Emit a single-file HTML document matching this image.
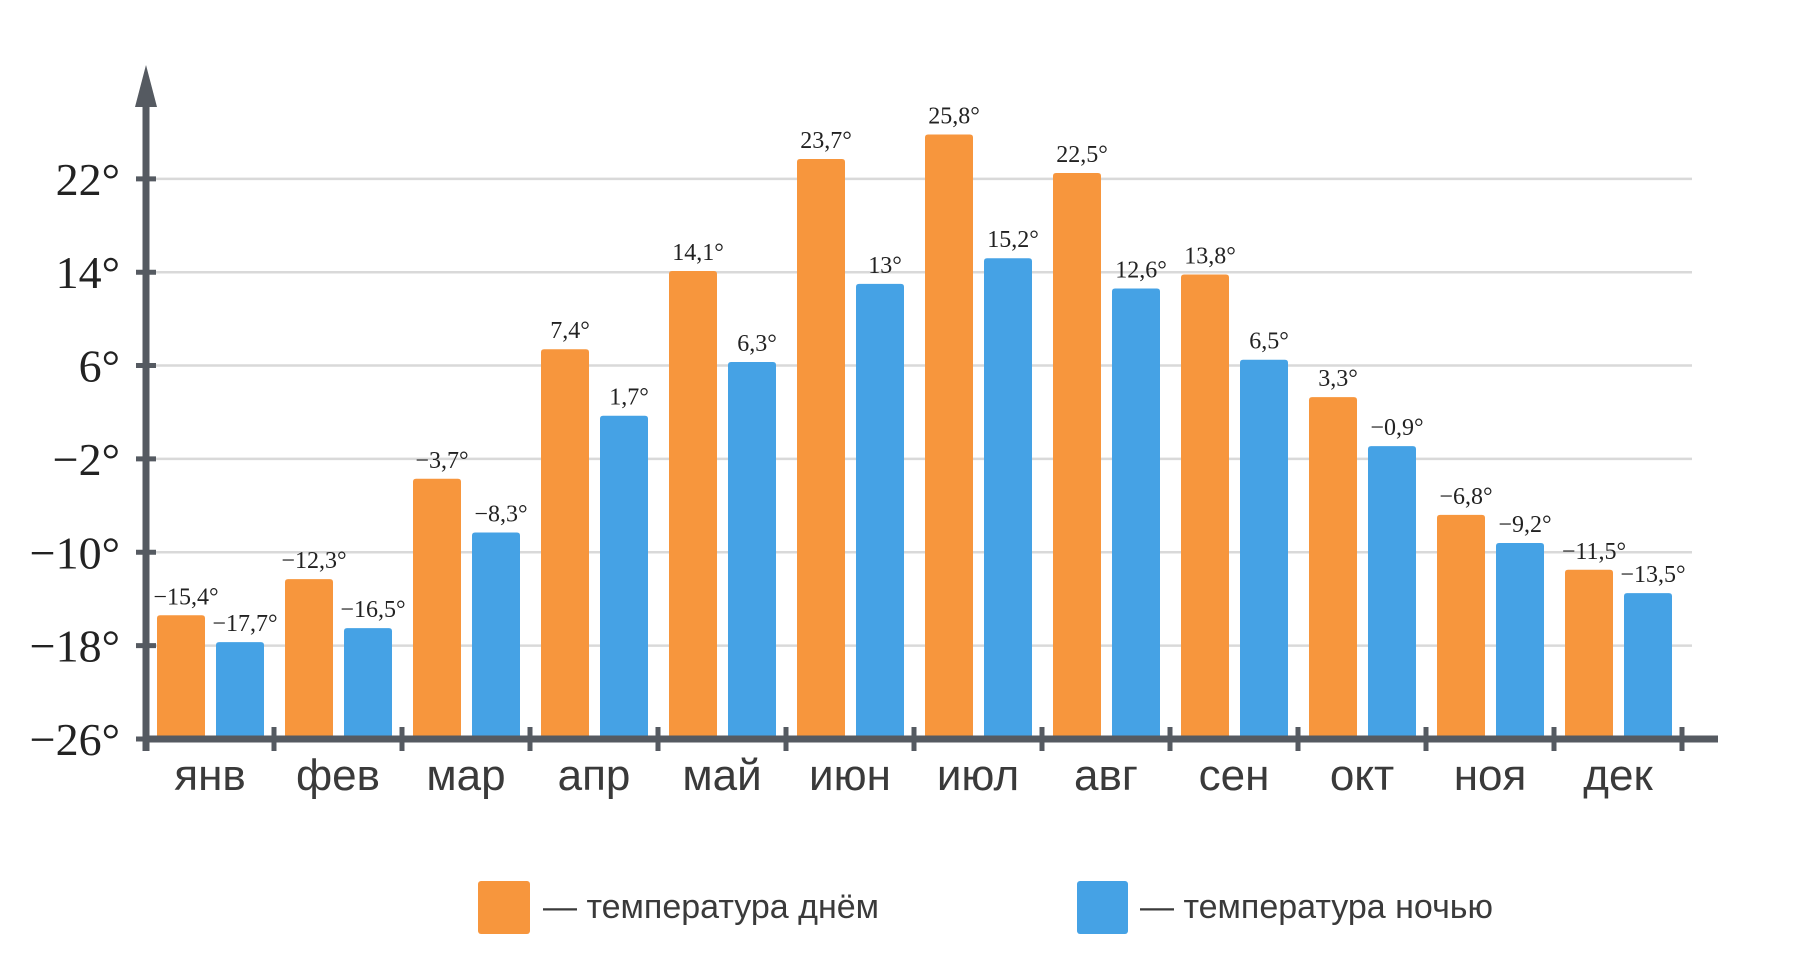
<!DOCTYPE html>
<html><head><meta charset="utf-8"><style>
html,body{margin:0;padding:0;background:#fff;}
svg{display:block;}
.ser{font-family:"Liberation Serif","DejaVu Serif",serif;fill:#222;}
.sans{font-family:"Liberation Sans","DejaVu Sans",sans-serif;fill:#3a3a3a;}
</style></head><body>
<svg id="chart" width="1813" height="964" viewBox="0 0 1813 964">
<g id="grid"></g>
<g id="bars"></g>
<g id="vals"></g>
<g id="axes"></g>
<g>
<rect x="478" y="881" width="52" height="53" rx="3" fill="#F7963D"/>
<text x="543" y="918" class="sans" font-size="34">— температура днём</text>
<rect x="1077" y="881" width="51" height="53" rx="3" fill="#45A2E5"/>
<text x="1140" y="918" class="sans" font-size="34">— температура ночью</text>
</g>
</svg>
<script>
const months = ["янв","фев","мар","апр","май","июн","июл","авг","сен","окт","ноя","дек"];
const dayTemps = [-15.4,-12.3,-3.7,7.4,14.1,23.7,25.8,22.5,13.8,3.3,-6.8,-11.5];
const nightTemps = [-17.7,-16.5,-8.3,1.7,6.3,13,15.2,12.6,6.5,-0.9,-9.2,-13.5];
const yTicks = [-26,-18,-10,-2,6,14,22];

const NS="http://www.w3.org/2000/svg";
const x0=146, groupW=128, yMin=-26, y0=739, pxPerDeg=11.67;
function y(v){return y0-(v-yMin)*pxPerDeg;}
function gx(i){return x0+i*groupW;}
function mk(tag,attrs,parent){const e=document.createElementNS(NS,tag);for(const k in attrs)e.setAttribute(k,attrs[k]);parent.appendChild(e);return e;}
function fmt(v){return (v<0?"−":"")+String(Math.abs(v)).replace(".",",")+"°";}

const grid=document.getElementById("grid"),bars=document.getElementById("bars"),vals=document.getElementById("vals"),axes=document.getElementById("axes");
yTicks.forEach(t=>{
  if(t!==yMin){const l=mk("line",{x1:x0,x2:1692,y1:y(t),y2:y(t),stroke:"#d9d9d9","stroke-width":2.5},grid);
  
  }
  const tk=mk("line",{x1:x0-10,x2:x0+10,y1:y(t),y2:y(t),stroke:"#555a61","stroke-width":5},axes);
  
  
  const tx=mk("text",{x:120,y:y(t)+16,"text-anchor":"end","font-size":46,class:"ser"},axes);
  tx.textContent=fmt(t);
  
  
});
function bar(v,x,color,name){
  const top=y(v),h=y0-top;
  const r=mk("path",{d:`M${x},${y0} L${x},${top+3} Q${x},${top} ${x+3},${top} L${x+45},${top} Q${x+48},${top} ${x+48},${top+3} L${x+48},${y0} Z`,fill:color},bars);
  
  
  const t=mk("text",{x:x+29,y:top-11,"text-anchor":"middle","font-size":24,class:"ser"},vals);
  t.textContent=fmt(v);
  
  
}
months.forEach((m,i)=>{
  bar(dayTemps[i],gx(i)+11,"#F7963D","bar-day-"+i);
  bar(nightTemps[i],gx(i)+70,"#45A2E5","bar-night-"+i);
  const ml=mk("text",{x:gx(i)+64,y:790,"text-anchor":"middle","font-size":44,class:"sans"},axes);
  ml.textContent=m;
  
  
});
for(let i=0;i<=12;i++){
  const t=mk("line",{x1:gx(i),x2:gx(i),y1:y0-12,y2:y0+12,stroke:"#555a61","stroke-width":5},axes);
  
  
}
const xa=mk("line",{x1:x0-3,x2:1718,y1:y0,y2:y0,stroke:"#555a61","stroke-width":7},axes);


const ya=mk("line",{x1:x0,x2:x0,y1:y0+12,y2:100,stroke:"#555a61","stroke-width":7},axes);


const ar=mk("polygon",{points:`${x0},65 ${x0+11},107 ${x0-11},107`,fill:"#555a61"},axes);


</script>
</body></html>
